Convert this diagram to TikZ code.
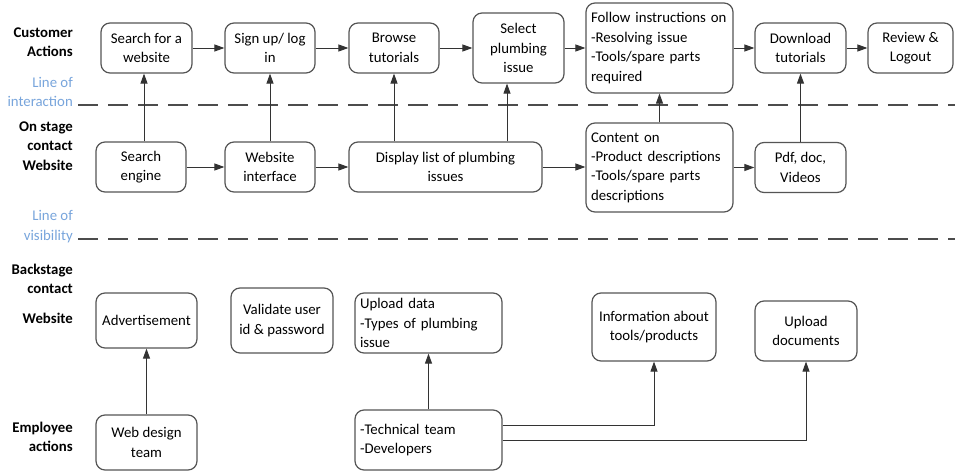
\documentclass[tikz,border=0pt]{standalone}
\usepackage{fontspec}
\setmainfont{Carlito}
\usetikzlibrary{arrows.meta,calc}

\definecolor{lineblue}{RGB}{120,165,220}
\definecolor{boxgray}{RGB}{85,85,85}

\tikzset{
  box/.style={draw=boxgray, line width=1.2pt, rounded corners=9pt, align=center,
    inner sep=2pt, font=\fontsize{14.8}{19.4}\selectfont},
  lbox/.style={box, align=left, inner xsep=5pt},
  arr/.style={draw=black!80, line width=0.95pt, -{Triangle[length=10pt,width=7pt]}},
  lanelabel/.style={anchor=east, align=right, inner sep=0pt,
    font=\fontsize{14.8}{19.4}\selectfont\bfseries},
  linelabel/.style={anchor=east, align=right, inner sep=0pt, text=lineblue,
    font=\fontsize{14.8}{19.6}\selectfont},
  laneline/.style={draw=black!70, line width=1.8pt, dash pattern=on 20pt off 10pt},
}

\begin{document}
\begin{tikzpicture}[x=1pt, y=-1pt]
\path[use as bounding box, fill=white] (0,0) rectangle (955,473);

% lane headings
\node[lanelabel] (hcust) at (73,42) {Customer\\Actions};
\node[linelabel] (hint) at (73,92) {Line of\\interaction};
\node[lanelabel] (hon) at (73,146) {On stage\\contact\\Website};
\node[linelabel] (hvis) at (73,226.5) {Line of\\visibility};
\node[lanelabel] (hback) at (73,279) {Backstage\\contact};
\node[lanelabel] (hweb) at (73,318) {Website};
\node[lanelabel] (hemp) at (73,437) {Employee\\actions};

% dividing lines
\coordinate (li0) at (78,105);
\coordinate (li1) at (955,105);
\coordinate (lv0) at (78,239);
\coordinate (lv1) at (955,239);
\draw[laneline] (li0) -- (li1);
\draw[laneline] (lv0) -- (lv1);

% customer actions
\node[box, minimum width=91pt, minimum height=50pt] (sw) at (146.5,48) {Search for a\\website};
\node[box, minimum width=90pt, minimum height=50pt] (su) at (270,48) {Sign up/ log\\in};
\node[box, minimum width=90pt, minimum height=50pt] (bt) at (394,48) {Browse\\tutorials};
\node[box, minimum width=91pt, minimum height=70pt] (sp) at (518.5,48) {Select\\plumbing\\issue};
\node[lbox, text width=137pt, minimum height=90pt] (fi) at (659.5,48) {Follow instructions on\\-Resolving issue\\-Tools/spare parts\\required};
\node[box, minimum width=91pt, minimum height=50pt] (dt) at (800.5,48) {Download\\tutorials};
\node[box, minimum width=85pt, minimum height=50pt] (rl) at (910.5,48) {Review \&\\Logout};

% on stage website
\node[box, minimum width=90pt, minimum height=50pt] (se) at (141,167) {Search\\engine};
\node[box, minimum width=90pt, minimum height=50pt] (wi) at (270,167) {Website\\interface};
\node[box, minimum width=193pt, minimum height=50pt] (dl) at (445.5,167) {Display list of plumbing\\issues};
\node[lbox, text width=137pt, minimum height=89pt] (co) at (659.5,167.5) {Content on\\-Product descriptions\\-Tools/spare parts\\descriptions};
\node[box, minimum width=91pt, minimum height=50pt] (pd) at (800.5,167.5) {Pdf, doc,\\Videos};

% backstage website
\node[box, minimum width=101pt, minimum height=55pt] (ad) at (146.5,320.5) {Advertisement};
\node[box, minimum width=102pt, minimum height=65pt] (vu) at (282,320.5) {Validate user\\id \& password};
\node[lbox, text width=137pt, minimum height=60pt] (ud) at (428.5,323) {Upload data\\-Types of plumbing\\issue};
\node[box, minimum width=124pt, minimum height=68pt] (it) at (654,327) {Information about\\tools/products};
\node[box, minimum width=102pt, minimum height=60pt] (up) at (806,331) {Upload\\documents};

% employee actions
\node[box, minimum width=101pt, minimum height=55pt] (wd) at (146.5,442.5) {Web design\\team};
\node[lbox, text width=137pt, minimum height=60pt] (tt) at (428.5,440) {-Technical team\\-Developers};

% customer flow
\draw[arr] (sw) -- (su);
\draw[arr] (su) -- (bt);
\draw[arr] (bt) -- (sp);
\draw[arr] (sp) -- (fi);
\draw[arr] (fi) -- (dt);
\draw[arr] (dt) -- (rl);

% website flow
\draw[arr] (se) -- (wi);
\draw[arr] (wi) -- (dl);
\draw[arr] (dl.east) -- (dl.east -| co.west);
\draw[arr] (co.east) -- (co.east -| pd.west);

% support lines across the line of interaction
\draw[arr] ([xshift=3pt]se.north) -- ([xshift=3pt]se.north |- sw.south);
\draw[arr] (wi.north) -- (su.south);
\draw[arr] (bt.south |- dl.north) -- (bt.south);
\draw[arr] ([xshift=-11.5pt]sp.south |- dl.north) -- ([xshift=-11.5pt]sp.south);
\draw[arr] (co.north) -- (fi.south);
\draw[arr] (pd.north) -- (dt.south);

% employee support
\draw[arr] (wd.north) -- (ad.south);
\draw[arr] (tt.north) -- (ud.south);
\draw[arr] ([yshift=15pt]tt.east) -| (it.south);
\draw[arr] (tt.east) -| (up.south);
\end{tikzpicture}
\end{document}
